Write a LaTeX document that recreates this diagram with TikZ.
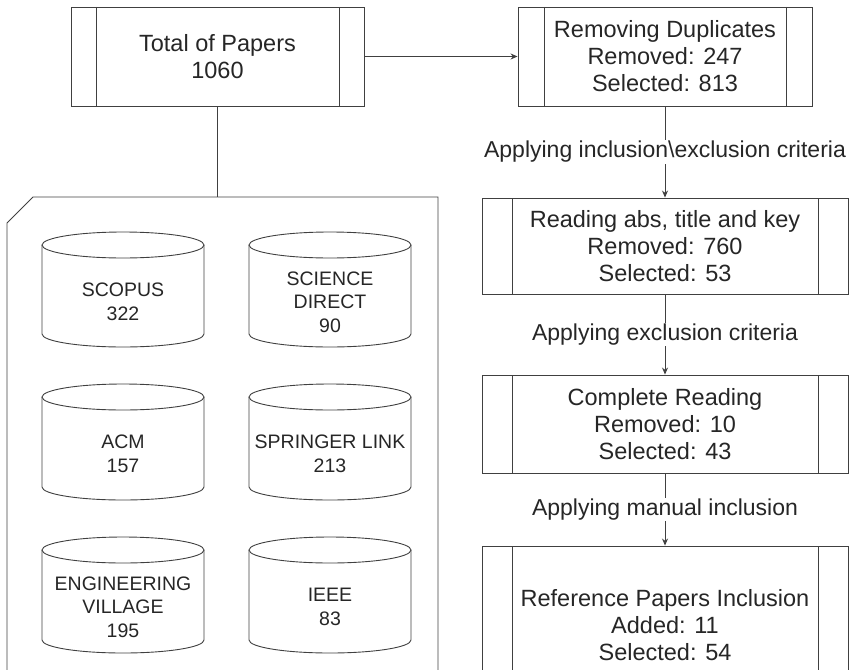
\documentclass[tikz,border=0pt]{standalone}
\usepackage{fontspec}
\setmainfont{Liberation Sans}
\usetikzlibrary{arrows.meta}
\newcommand\dbcyl[5]{%
  \draw[ln] ({#1+81},{#2+13}) ellipse [x radius=81pt, y radius=13pt];
  \draw[ln] (#1,{#2+13}) -- (#1,{#2+#3-13}) arc[start angle=180,end angle=360,x radius=81pt,y radius=13pt] -- ({#1+162},{#2+13});
  \node[dbtext] (#4) at ({#1+81},{#2+70}) {#5};
}
\begin{document}
\begin{tikzpicture}[x=1pt,y=-1pt,
  ln/.style={draw=black!75, line width=0.9pt},
  arr/.style={-{Stealth[length=7pt,width=6pt]}},
  proc/.style={ln, rectangle, inner sep=0pt, align=center, text=black!85,
    font=\fontsize{23.5}{27}\selectfont,
    path picture={\draw[black!75,line width=0.9pt]
      ([xshift=#1]path picture bounding box.north west) -- ([xshift=#1]path picture bounding box.south west)
      ([xshift=-#1]path picture bounding box.north east) -- ([xshift=-#1]path picture bounding box.south east);}},
  lab/.style={fill=white, inner sep=1pt, text=black!85, font=\fontsize{23}{27}\selectfont},
  dbtext/.style={align=center, inner sep=0pt, text=black!85, font=\fontsize{19.5}{23.5}\selectfont}
]
\useasboundingbox (0,0) rectangle (850,669);
\clip (0,0) rectangle (850,669);

% process boxes
\node[proc=25pt, minimum width=293pt, minimum height=99pt] (tot) at (217.5,56.5) {Total of Papers\\1060};
\node[proc=26pt, minimum width=294pt, minimum height=99pt] (rd) at (665,56.5) {Removing Duplicates\\Removed: 247\\Selected: 813};
\node[proc=30pt, minimum width=366pt, minimum height=96pt] (b2) at (665,246) {Reading abs, title and key\\Removed: 760\\Selected: 53};
\node[proc=30pt, minimum width=366pt, minimum height=98pt] (b3) at (665,424) {Complete Reading\\Removed: 10\\Selected: 43};
\node[proc=30pt, minimum width=366pt, minimum height=158pt] (b4) at (665,625) {Reference Papers Inclusion\\Added: 11\\Selected: 54};

% container
\draw[ln] (7,690) -- (7,223) -- (33,197) -- (438,197) -- (438,690);
\coordinate (ctop) at (217.5,197);

% cylinders
\dbcyl{42}{232}{115}{scopus}{SCOPUS\\322}
\dbcyl{249}{232}{115}{sd}{SCIENCE\\DIRECT\\90}
\dbcyl{42}{384}{116}{acm}{ACM\\157}
\dbcyl{249}{384}{116}{spr}{SPRINGER LINK\\213}
\dbcyl{42}{537}{116}{ev}{ENGINEERING\\VILLAGE\\195}
\dbcyl{249}{537}{116}{ieee}{IEEE\\83}

% connectors
\draw[ln] (tot.south) -- (ctop);
\draw[ln,arr] (tot.east) -- (rd.west);
\draw[ln,arr] (rd.south) -- node[lab] (l1) {Applying inclusion\textbackslash exclusion criteria} (b2.north);
\draw[ln,arr] (b2.south) -- node[lab] (l2) {Applying exclusion criteria} (b3.north);
\draw[ln,arr] (b3.south) -- node[lab] (l3) {Applying manual inclusion} (b4.north);
\end{tikzpicture}
\end{document}
